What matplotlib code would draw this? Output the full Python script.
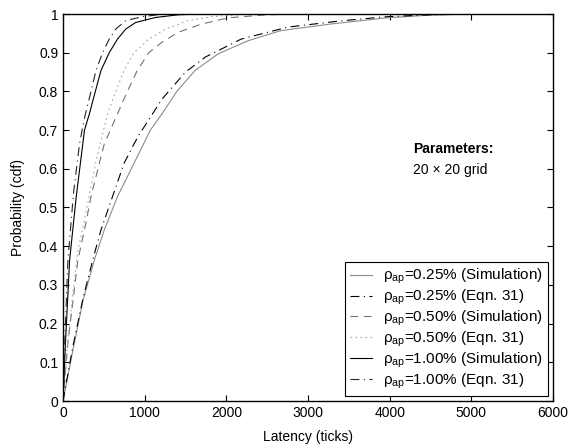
import numpy as np
import matplotlib.pyplot as plt

plt.rcParams['font.family'] = ['Liberation Sans', 'DejaVu Sans']
plt.rcParams['mathtext.fontset'] = 'custom'
plt.rcParams['mathtext.rm'] = 'Liberation Sans'
plt.rcParams['mathtext.it'] = 'Liberation Sans:italic'

# latency (ticks) vs cdf, read per curve
lat_025_sim = [0, 120, 245, 384, 505, 667, 869, 1070, 1212, 1394, 1616, 1900, 2267, 2667, 3273, 3960, 4485, 5000, 6000]
cdf_025_sim = [0, 0.13, 0.26, 0.364, 0.442, 0.528, 0.614, 0.70, 0.742, 0.80, 0.854, 0.897, 0.931, 0.957, 0.974, 0.99, 0.997, 1.0, 1.0]

lat_025_eqn = [0, 120, 250, 384, 465, 606, 747, 869, 929, 1212, 1500, 1745, 2180, 2750, 3390, 3960, 4500, 5000, 6000]
cdf_025_eqn = [0, 0.14, 0.27, 0.38, 0.442, 0.528, 0.614, 0.664, 0.687, 0.78, 0.85, 0.889, 0.935, 0.966, 0.982, 0.993, 0.998, 1.0, 1.0]

lat_050_sim = [0, 60, 182, 263, 343, 444, 505, 667, 788, 909, 1050, 1212, 1414, 1697, 2020, 2500, 3000, 6000]
cdf_050_sim = [0, 0.15, 0.364, 0.442, 0.528, 0.614, 0.664, 0.742, 0.80, 0.854, 0.90, 0.927, 0.953, 0.974, 0.99, 0.998, 1.0, 1.0]

lat_050_eqn = [0, 60, 175, 255, 330, 400, 444, 545, 646, 747, 869, 1050, 1252, 1535, 1818, 2200, 2500, 6000]
cdf_050_eqn = [0, 0.16, 0.38, 0.46, 0.54, 0.615, 0.655, 0.742, 0.80, 0.854, 0.90, 0.935, 0.961, 0.983, 0.993, 0.999, 1.0, 1.0]

lat_100_sim = [0, 30, 81, 162, 242, 263, 323, 396, 465, 566, 667, 768, 889, 1131, 1414, 1700, 6000]
cdf_100_sim = [0, 0.15, 0.364, 0.528, 0.664, 0.70, 0.742, 0.80, 0.854, 0.90, 0.935, 0.961, 0.978, 0.991, 0.998, 1.0, 1.0]

lat_100_eqn = [0, 25, 60, 130, 202, 234, 275, 343, 404, 485, 566, 646, 768, 970, 1200, 1500, 6000]
cdf_100_eqn = [0, 0.17, 0.364, 0.54, 0.664, 0.70, 0.742, 0.80, 0.854, 0.90, 0.935, 0.961, 0.983, 0.993, 0.999, 1.0, 1.0]

labels = [
    r'ρ$_{\mathregular{ap}}$=0.25% (Simulation)',
    r'ρ$_{\mathregular{ap}}$=0.25% (Eqn. 31)',
    r'ρ$_{\mathregular{ap}}$=0.50% (Simulation)',
    r'ρ$_{\mathregular{ap}}$=0.50% (Eqn. 31)',
    r'ρ$_{\mathregular{ap}}$=1.00% (Simulation)',
    r'ρ$_{\mathregular{ap}}$=1.00% (Eqn. 31)',
]

fs = 10

fig = plt.figure(figsize=(5.7, 4.48), dpi=100)
ax = fig.add_axes([63 / 570, 47 / 448, 490 / 570, 387 / 448])

lw = 0.8
dashdot = (0, (8, 4, 1, 4))
ax.plot(lat_025_sim, cdf_025_sim, color='0.55', lw=lw, ls='-', label=labels[0])
ax.plot(lat_025_eqn, cdf_025_eqn, color='black', lw=lw, ls=dashdot, label=labels[1])
ax.plot(lat_050_sim, cdf_050_sim, color='0.45', lw=lw, ls=(0, (7, 5)), label=labels[2])
ax.plot(lat_050_eqn, cdf_050_eqn, color='0.65', lw=lw, ls=(0, (1.5, 3)), label=labels[3])
ax.plot(lat_100_sim, cdf_100_sim, color='black', lw=lw, ls='-', label=labels[4])
ax.plot(lat_100_eqn, cdf_100_eqn, color='0.15', lw=lw, ls=dashdot, label=labels[5])

ax.set_xlim(0, 6000)
ax.set_ylim(0, 1)
ax.set_xticks(np.arange(0, 6001, 1000))
ax.set_yticks(np.arange(0, 1.01, 0.1))
ax.set_yticklabels(['0', '0.1', '0.2', '0.3', '0.4', '0.5', '0.6', '0.7', '0.8', '0.9', '1'])
ax.tick_params(direction='in', top=True, right=True, labelsize=fs, length=4, width=0.8)
for s in ax.spines.values():
    s.set_linewidth(1.0)

ax.set_xlabel('Latency (ticks)', fontsize=fs, labelpad=7)
ax.set_ylabel('Probability (cdf)', fontsize=fs, labelpad=10)

ax.text(4286, 0.65, 'Parameters:', fontsize=fs, fontweight='bold', va='center')
ax.text(4286, 0.597, '20 × 20 grid', fontsize=fs, va='center')

leg = ax.legend(loc='lower right', fontsize=11, handlelength=1.45, handletextpad=0.7,
                labelspacing=0.1, borderaxespad=0.33, fancybox=False, framealpha=1,
                borderpad=0.35)
leg.get_frame().set_edgecolor('black')
leg.get_frame().set_linewidth(0.8)

fig.savefig('out.png', dpi=100)
